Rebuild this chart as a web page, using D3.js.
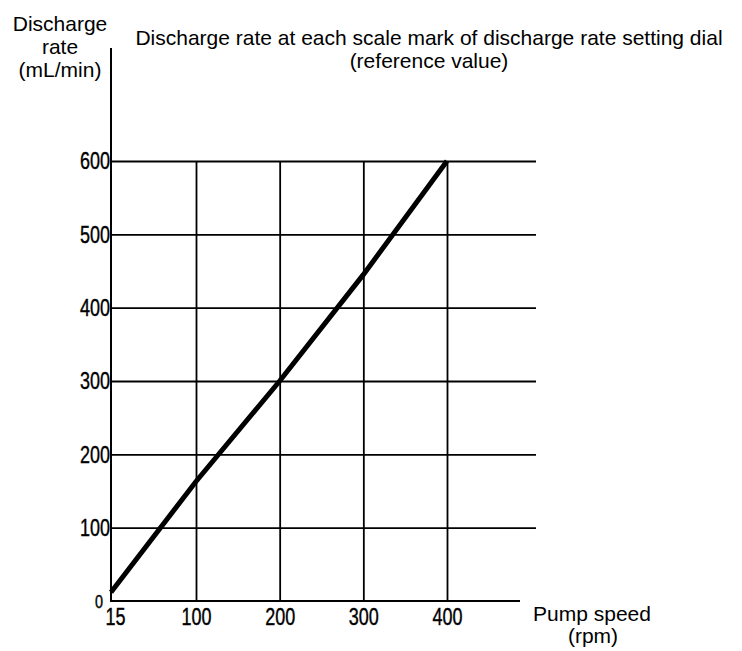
<!DOCTYPE html>
<html lang="en">
<head>
    <meta charset="UTF-8">
    <title>Discharge rate vs pump speed</title>
    <script src="https://d3js.org/d3.v7.min.js"></script>
    <style>
        body { margin: 0; background: #fff; }
        svg { display: block; }
        .lbl { font-family: "Liberation Sans", Arial, sans-serif; font-size: 21px; fill: #000; }
        .tick text { font-family: "Liberation Sans", Arial, sans-serif; font-size: 24px; fill: #000; stroke: #000; stroke-width: 0.4px; }
    </style>
</head>
<body>
    <svg id="chart" width="742" height="651"></svg>
    <script>
        // values
        const pumpSpeed = [15, 100, 200, 300, 400];      // rpm
        const dischargeRate = [12, 163, 300, 445, 600];  // mL/min
        const xTicks = [15, 100, 200, 300, 400];
        const yTicks = [0, 100, 200, 300, 400, 500, 600];

        const svg = d3.select("#chart");

        // the first segment (15 -> 100) is drawn compressed, like the original dial chart
        const x = d3.scaleLinear().domain([15, 100, 400]).range([111, 196, 447]);
        const y = d3.scaleLinear().domain([0, 600]).range([601, 161]);

        const gridRight = 536;
        const axisRight = 520;

        // narrow digits: squeeze each label to ~10px per character
        function narrow(sel, per) {
            sel.each(function () {
                const t = d3.select(this);
                t.attr("textLength", t.text().length * per).attr("lengthAdjust", "spacingAndGlyphs");
            });
        }

        // horizontal grid + y labels
        const yAxis = svg.append("g")
            .attr("transform", `translate(${x(15)},0)`)
            .call(d3.axisLeft(y).tickValues(yTicks).tickSize(-(gridRight - x(15))).tickPadding(1));
        yAxis.select(".domain").remove();
        yAxis.selectAll(".tick line").attr("stroke", "#000").attr("stroke-width", 1.8);
        yAxis.selectAll(".tick text").call(narrow, 10);
        yAxis.selectAll(".tick").filter(d => d === 0).select("line").remove();
        yAxis.selectAll(".tick").filter(d => d === 0).select("text")
            .attr("x", -8).attr("dy", "0.36em").attr("textLength", 8).style("font-size", "18px");

        // vertical grid + x labels
        const xAxis = svg.append("g")
            .attr("transform", `translate(0,${y(0)})`)
            .call(d3.axisBottom(x).tickValues(xTicks).tickSize(-(y(0) - y(600))).tickPadding(7));
        xAxis.select(".domain").remove();
        xAxis.selectAll(".tick line").attr("stroke", "#000").attr("stroke-width", 1.8);
        xAxis.selectAll(".tick text").call(narrow, 10);
        xAxis.selectAll(".tick").filter(d => d === 15).select("line").remove();
        xAxis.selectAll(".tick").filter(d => d === 15).select("text").attr("dx", 4);

        // axes lines
        svg.append("line")
            .attr("x1", x(15)).attr("x2", x(15))
            .attr("y1", 48).attr("y2", y(0) + 1)
            .attr("stroke", "#000").attr("stroke-width", 2);
        svg.append("line")
            .attr("x1", x(15) - 1).attr("x2", axisRight)
            .attr("y1", y(0)).attr("y2", y(0))
            .attr("stroke", "#000").attr("stroke-width", 2.2);

        // discharge line
        const line = d3.line()
            .x((d, i) => x(pumpSpeed[i]))
            .y(d => y(d));
        svg.append("path")
            .datum(dischargeRate)
            .attr("d", line)
            .attr("fill", "none")
            .attr("stroke", "#000")
            .attr("stroke-width", 5);

        // titles
        const yTitle = svg.append("text").attr("class", "lbl").attr("text-anchor", "middle");
        [["Discharge", 31], ["rate", 54], ["(mL/min)", 77]].forEach(([t, yy]) => {
            yTitle.append("tspan").attr("x", 60).attr("y", yy).text(t);
        });

        const title = svg.append("text").attr("class", "lbl").attr("text-anchor", "middle");
        title.append("tspan").attr("x", 429).attr("y", 45)
            .text("Discharge rate at each scale mark of discharge rate setting dial");
        title.append("tspan").attr("x", 429).attr("y", 68).text("(reference value)");

        const xTitle = svg.append("text").attr("class", "lbl").attr("text-anchor", "middle");
        xTitle.append("tspan").attr("x", 592).attr("y", 621).text("Pump speed");
        xTitle.append("tspan").attr("x", 593).attr("y", 643).text("(rpm)");
    </script>
</body>
</html>
